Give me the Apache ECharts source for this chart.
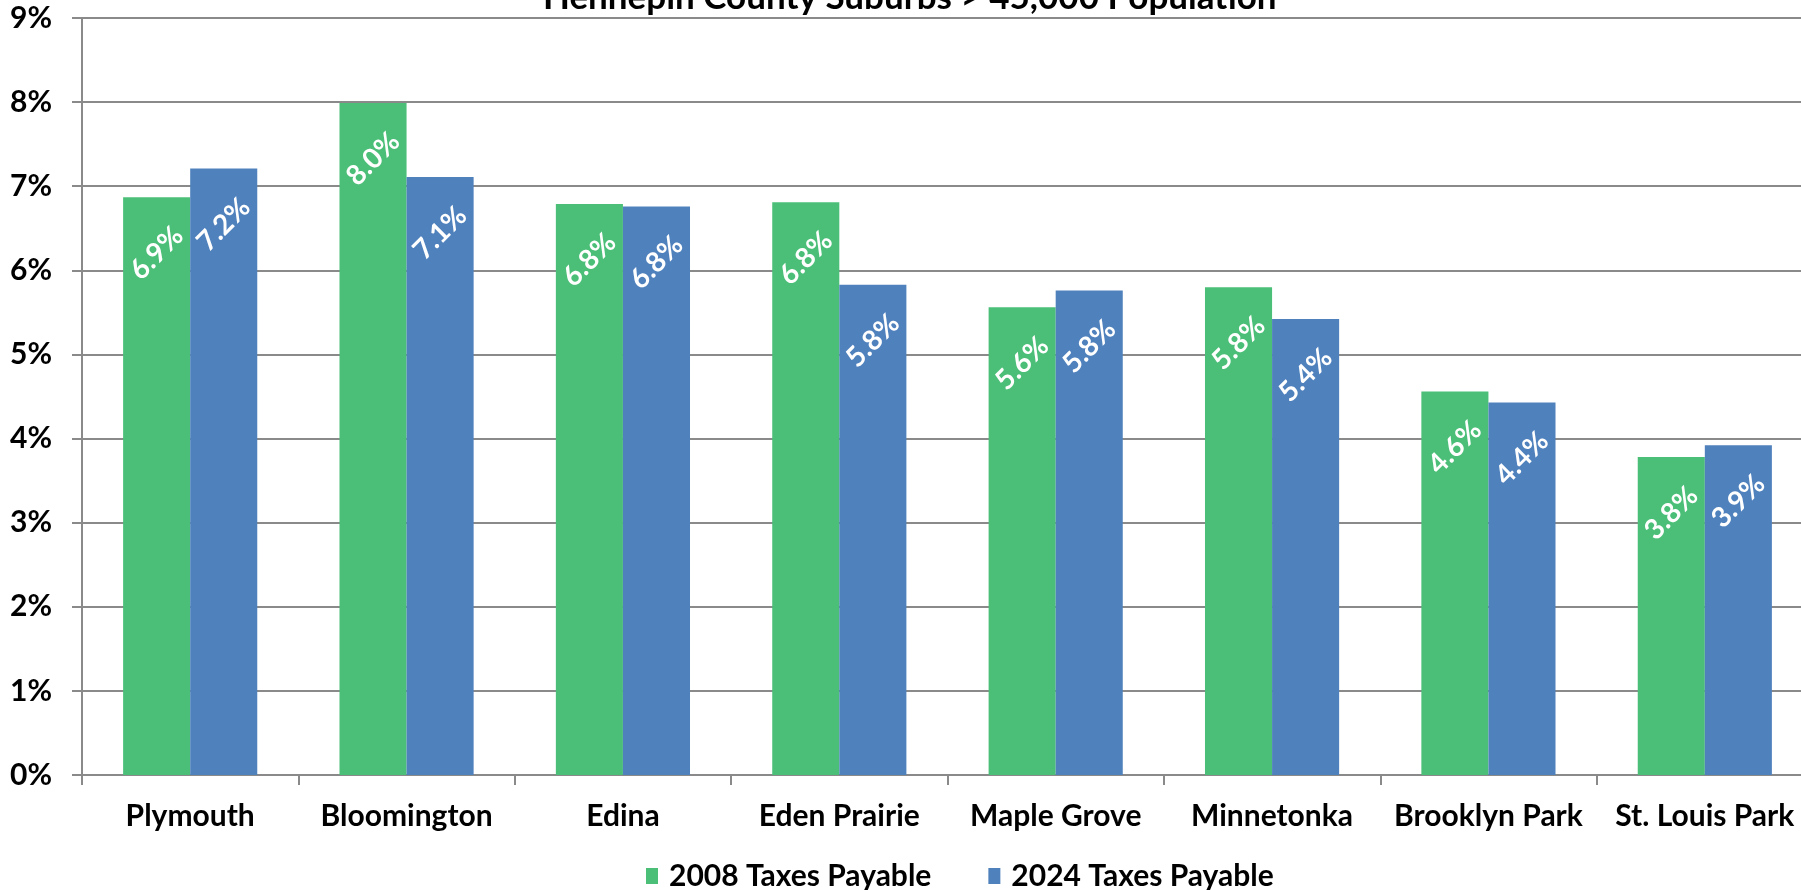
<!DOCTYPE html>
<html>
<head>
<meta charset="utf-8">
<script src="https://cdn.jsdelivr.net/npm/echarts@6/dist/echarts.min.js"></script>
<style>
html,body{margin:0;padding:0;background:#fff;overflow:hidden;width:1801px;height:890px;}
#chart{width:1813px;height:890px;}
</style>
</head>
<body>
<div id="chart"></div>
<script>
const titleText = 'Hennepin County Suburbs > 45,000 Population';
const categories = ['Plymouth', 'Bloomington', 'Edina', 'Eden Prairie', 'Maple Grove', 'Minnetonka', 'Brooklyn Park', 'St. Louis Park'];
const seriesNames = ['2008 Taxes Payable', '2024 Taxes Payable'];
const values2008 = [6.87, 7.99, 6.79, 6.81, 5.56, 5.80, 4.56, 3.78];
const values2024 = [7.21, 7.11, 6.76, 5.83, 5.76, 5.42, 4.43, 3.92];
const yTicks = [0, 1, 2, 3, 4, 5, 6, 7, 8, 9];

const FONT = 'Lato';
const gridColor = '#8a8a8a';

const barLabel = {
  show: true,
  position: ['50%', 56],
  align: 'center',
  verticalAlign: 'middle',
  rotate: 45,
  color: '#ffffff',
  fontFamily: FONT,
  fontWeight: 'bold',
  fontSize: 28,
  formatter: p => p.value.toFixed(1) + '%'
};

const chart = echarts.init(document.getElementById('chart'), null, {renderer: 'canvas'});
chart.setOption({
  animation: false,
  backgroundColor: '#ffffff',
  title: {
    text: titleText,
    left: 538,
    top: -25,
    textStyle: {fontFamily: FONT, fontWeight: 'bold', fontSize: 35, color: '#000'}
  },
  legend: {
    data: seriesNames,
    left: 641,
    top: 856,
    itemWidth: 12,
    itemHeight: 16,
    itemGap: 57,
    icon: 'rect',
    textStyle: {fontFamily: FONT, fontWeight: 'bold', fontSize: 30, color: '#000', padding: [0, 0, 0, 6]}
  },
  grid: {left: 82, right: 0, top: 18, bottom: 115, containLabel: false},
  xAxis: {
    type: 'category',
    data: categories,
    boundaryGap: true,
    axisLine: {show: true, lineStyle: {color: gridColor, width: 2}},
    axisTick: {show: true, length: 10, lineStyle: {color: gridColor, width: 2}},
    axisLabel: {interval: 0, fontFamily: FONT, fontWeight: 'bold', fontSize: 30, color: '#000', margin: 26}
  },
  yAxis: {
    type: 'value',
    min: yTicks[0],
    max: yTicks[yTicks.length - 1],
    interval: 1,
    axisLine: {show: true, lineStyle: {color: gridColor, width: 2}},
    axisTick: {show: true, length: 10, lineStyle: {color: gridColor, width: 2}},
    splitLine: {show: true, lineStyle: {color: gridColor, width: 2}},
    axisLabel: {fontFamily: FONT, fontWeight: 'bold', fontSize: 30, color: '#000', margin: 30, formatter: v => v + '%'}
  },
  series: [
    {name: seriesNames[0], type: 'bar', data: values2008, barGap: '0%', barCategoryGap: '38%',
     itemStyle: {color: '#4BBF78'}, label: barLabel},
    {name: seriesNames[1], type: 'bar', data: values2024, barGap: '0%', barCategoryGap: '38%',
     itemStyle: {color: '#4F81BD'}, label: barLabel}
  ]
});
</script>
</body>
</html>
